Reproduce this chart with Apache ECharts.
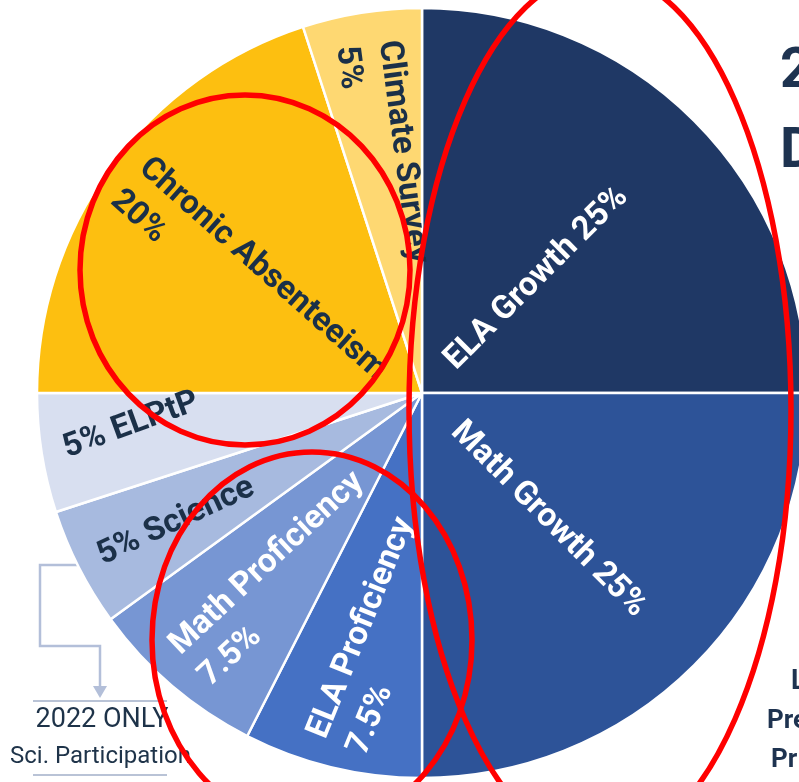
<!DOCTYPE html>
<html>
<head>
<meta charset="utf-8">
<script src="https://cdn.jsdelivr.net/npm/echarts@6/dist/echarts.min.js"></script>
<style>
  html, body { margin: 0; padding: 0; background: #ffffff; }
  #chart { width: 799px; height: 782px; }
</style>
</head>
<body>
<div id="chart"></div>
<script>
// Accountability weights, clockwise from 12 o'clock
const categories = ['ELA Growth', 'Math Growth', 'ELA Proficiency', 'Math Proficiency',
                    'Science', 'ELPtP', 'Chronic Absenteeism', 'Climate Survey'];
const weights = [25, 25, 7.5, 7.5, 5, 5, 20, 5];
// How each slice's name and weight are worded
const labelTemplates = ['{n} {v}%', '{n} {v}%', '{n}\n{v}%', '{n}\n{v}%',
                        '{v}% {n}', '{v}% {n}', '{n}\n{v}%', '{n}\n{v}%'];
const noteLines = ['2022 ONLY', 'Sci. Participation'];

// Styling
const sliceColors = ['#1f3865', '#2d5398', '#4571c4', '#7796d3',
                     '#a7badf', '#d8dff0', '#fdbf10', '#fed872'];
const labelColors = ['#ffffff', '#ffffff', '#ffffff', '#ffffff',
                     '#1b3048', '#1b3048', '#1b3048', '#1b3048'];
// Distance from the centre at which each label begins, and its tilt in degrees
const labelStart = [40, 48, 362, 358, 362, 362, 362, 354];
const labelRotate = [45, -45, 68, 43, 25, 20, -41.5, -82.5];

const CX = 422, CY = 393, R = 385;
const total = weights.reduce((a, b) => a + b, 0);

function midAngle(i) {
  let s = 0;
  for (let k = 0; k < i; k++) s += weights[k];
  return (s + weights[i] / 2) / total * 360;
}

const chart = echarts.init(document.getElementById('chart'), null, { renderer: 'canvas' });

const option = {
  backgroundColor: '#ffffff',
  animation: false,
  series: [{
    type: 'pie',
    center: [CX, CY],
    radius: [0, R],
    startAngle: 90,
    clockwise: true,
    silent: true,
    data: categories.map((name, i) => ({
      name: name,
      value: weights[i],
      itemStyle: { color: sliceColors[i] },
      label: { color: labelColors[i] }
    })),
    itemStyle: { borderColor: '#ffffff', borderWidth: 2.5 },
    label: {
      show: true,
      position: 'inside',
      fontFamily: 'Roboto',
      fontWeight: 'bold',
      fontSize: 33,
      lineHeight: 43,
      formatter: p => labelTemplates[p.dataIndex]
        .replace('{n}', p.name).replace('{v}', p.value)
    },
    labelLine: { show: false },
    labelLayout: function (p) {
      const i = p.dataIndex;
      const rad = midAngle(i) * Math.PI / 180;
      const r = labelStart[i];
      return {
        x: CX + r * Math.sin(rad),
        y: CY - r * Math.cos(rad),
        rotate: labelRotate[i],
        align: 'left',
        verticalAlign: 'middle'
      };
    }
  }],
  graphic: [
    // bracket arrow from the Science slice to the note below
    {
      type: 'polyline', z: -1,
      shape: { points: [[80, 565], [40, 565], [40, 646], [100, 646], [100, 688]] },
      style: { stroke: '#b3bfd9', lineWidth: 2.5, fill: null }
    },
    {
      type: 'polygon', z: -1,
      shape: { points: [[93, 686], [107, 686], [100, 698]] },
      style: { fill: '#b3bfd9' }
    },
    { type: 'line', shape: { x1: 33, y1: 701, x2: 167, y2: 701 }, style: { stroke: '#b9c3d6', lineWidth: 2 } },
    { type: 'line', shape: { x1: 33, y1: 775, x2: 167, y2: 775 }, style: { stroke: '#b9c3d6', lineWidth: 2 } },
    {
      type: 'text', x: 102, y: 720,
      style: { text: noteLines[0], font: '27px Roboto', fill: '#1e3349', align: 'center', verticalAlign: 'middle' }
    },
    {
      type: 'text', x: 10, y: 757,
      style: { text: noteLines[1], font: '24px Roboto', fill: '#1e3349', align: 'left', verticalAlign: 'middle' }
    },
    // heading characters along the right edge
    { type: 'text', x: 780, y: 73, style: { text: '2', font: 'bold 56px Roboto', fill: '#1e3350', verticalAlign: 'middle' } },
    { type: 'text', x: 780, y: 153, style: { text: 'D', font: 'bold 56px Roboto', fill: '#1e3350', verticalAlign: 'middle' } },
    { type: 'text', x: 791, y: 682, style: { text: 'L', font: 'bold 27px Roboto', fill: '#1e3350', verticalAlign: 'middle' } },
    { type: 'text', x: 767, y: 721, style: { text: 'Pre', font: 'bold 26px Roboto', fill: '#1e3350', verticalAlign: 'middle' } },
    { type: 'text', x: 771, y: 760, style: { text: 'Pr', font: 'bold 26px Roboto', fill: '#1e3350', verticalAlign: 'middle' } },
    // red highlight rings
    {
      type: 'ellipse', z: 200,
      shape: { cx: 600, cy: 410, rx: 191, ry: 437 },
      style: { fill: null, stroke: '#ff0000', lineWidth: 5.5 }
    },
    {
      type: 'ellipse', z: 200,
      shape: { cx: 245, cy: 270, rx: 165, ry: 175 },
      style: { fill: null, stroke: '#ff0000', lineWidth: 5.5 }
    },
    {
      type: 'ellipse', z: 200,
      shape: { cx: 312, cy: 640, rx: 160, ry: 188 },
      style: { fill: null, stroke: '#ff0000', lineWidth: 5.5 }
    }
  ]
};

chart.setOption(option);
</script>
</body>
</html>
